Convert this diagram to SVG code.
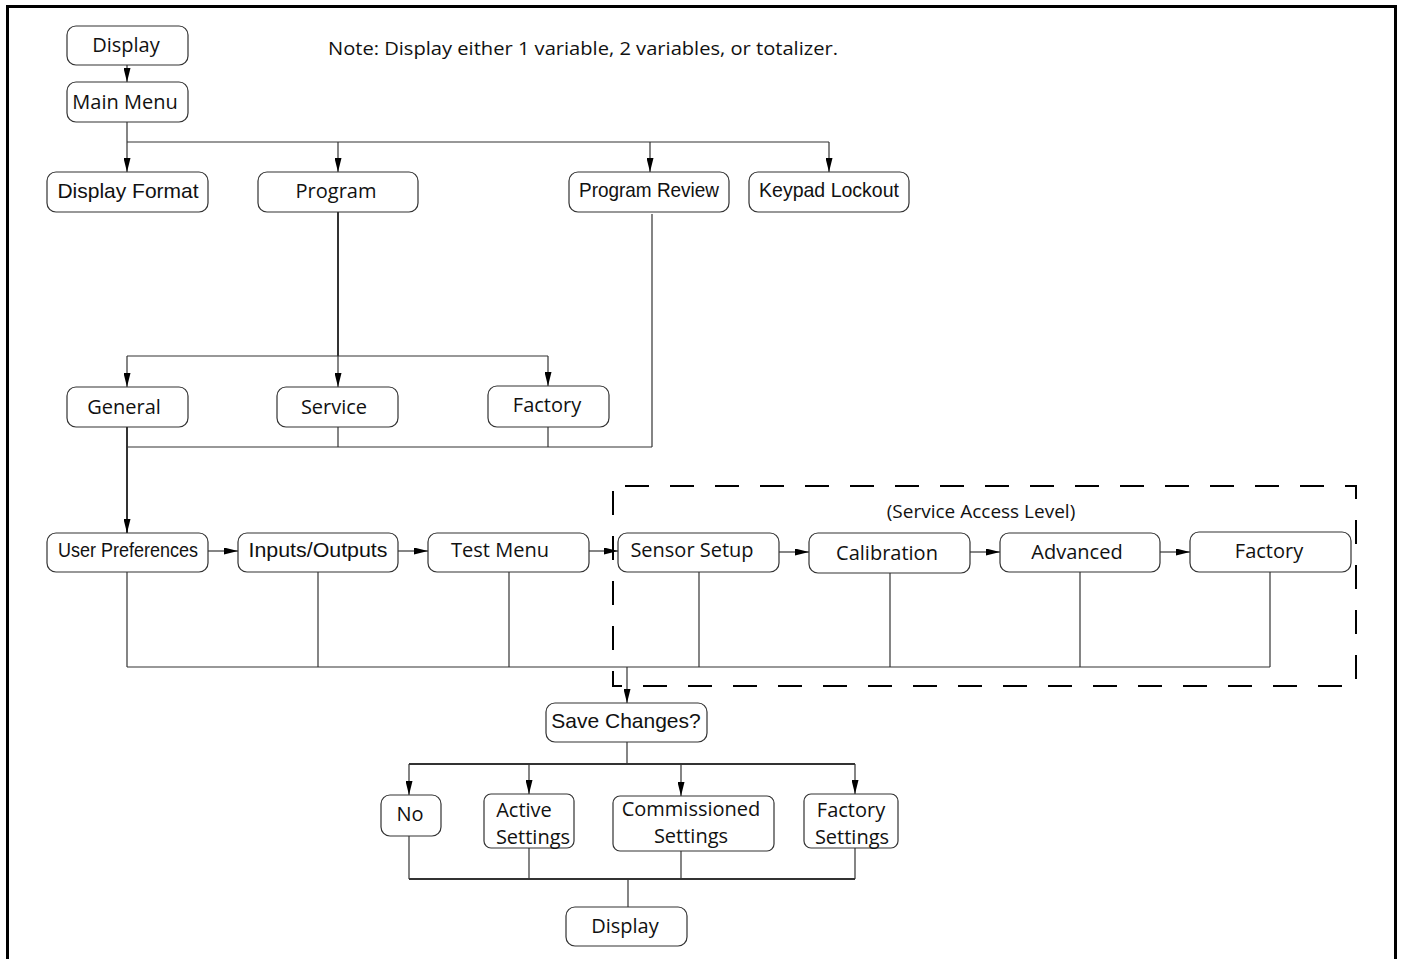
<svg xmlns="http://www.w3.org/2000/svg" width="1401" height="959" viewBox="0 0 1401 959">
<defs>
<marker id="ah" viewBox="0 0 14 7" refX="14" refY="3.5" markerWidth="14" markerHeight="7" markerUnits="userSpaceOnUse" orient="auto"><path d="M0,0 L14,3.5 L0,7 Z" fill="#000"/></marker>
<style>
.n rect{fill:#fff;stroke:#333;stroke-width:1.2}
.n text{font-family:"Open Sans","Noto Sans",sans-serif;font-size:20px;fill:#111;text-anchor:middle}
.n text.a{font-family:"Liberation Sans",Arial,sans-serif;font-size:21px}
#conn line,#conn polyline{stroke:#333;stroke-width:1.2;fill:none}
#conn .ar{marker-end:url(#ah)}
#conn .th{stroke-width:2}
.note{font-family:"Open Sans","Noto Sans",sans-serif;font-size:19px;fill:#111}
</style>
</defs>
<rect width="1401" height="959" fill="#fff"/>
<path d="M7.5,959 V6.5 H1395.5 V959" fill="none" stroke="#000" stroke-width="3"/>
<text class="note" x="328" y="55" textLength="510" lengthAdjust="spacingAndGlyphs">Note: Display either 1 variable, 2 variables, or totalizer.</text>
<rect x="613" y="486" width="743" height="200" fill="none" stroke="#000" stroke-width="2" stroke-dasharray="24 21" stroke-dashoffset="-12"/>
<text x="981" y="518" style="font-family:'Open Sans','Noto Sans',sans-serif;font-size:19px;fill:#111;text-anchor:middle">(Service Access Level)</text>
<g id="conn">
<line class="ar" x1="127" y1="65" x2="127" y2="82"/>
<line x1="127" y1="122" x2="127" y2="142"/>
<line x1="127" y1="142" x2="829" y2="142"/>
<line class="ar" x1="127" y1="142" x2="127" y2="172"/>
<line class="ar" x1="338" y1="142" x2="338" y2="172"/>
<line class="ar" x1="650" y1="142" x2="650" y2="172"/>
<line class="ar" x1="829" y1="142" x2="829" y2="172"/>
<line class="th" x1="338" y1="212" x2="338" y2="356"/>
<line x1="127" y1="356" x2="548" y2="356"/>
<line class="ar" x1="127" y1="356" x2="127" y2="387"/>
<line class="ar" x1="338" y1="356" x2="338" y2="387"/>
<line class="ar" x1="548" y1="356" x2="548" y2="386"/>
<line x1="338" y1="427" x2="338" y2="447"/>
<line x1="548" y1="427" x2="548" y2="447"/>
<line x1="127" y1="447" x2="652" y2="447"/>
<line x1="652" y1="214" x2="652" y2="447"/>
<line class="ar th" x1="127" y1="427" x2="127" y2="533"/>
<line class="ar" x1="208" y1="551" x2="238" y2="551"/>
<line class="ar" x1="398" y1="551" x2="428" y2="551"/>
<line class="ar" x1="589" y1="551" x2="618" y2="551"/>
<line class="ar" x1="779" y1="552" x2="809" y2="552"/>
<line class="ar" x1="970" y1="552" x2="1000" y2="552"/>
<line class="ar" x1="1160" y1="552" x2="1190" y2="552"/>
<line x1="127" y1="572" x2="127" y2="667"/>
<line x1="318" y1="572" x2="318" y2="667"/>
<line x1="509" y1="572" x2="509" y2="667"/>
<line x1="699" y1="572" x2="699" y2="667"/>
<line x1="890" y1="573" x2="890" y2="667"/>
<line x1="1080" y1="572" x2="1080" y2="667"/>
<line x1="1270" y1="572" x2="1270" y2="667"/>
<line x1="127" y1="667" x2="1270" y2="667"/>
<line class="ar" x1="627" y1="667" x2="627" y2="703"/>
<line x1="627" y1="742" x2="627" y2="764"/>
<line class="th" x1="409" y1="764" x2="855" y2="764"/>
<line class="ar" x1="409" y1="764" x2="409" y2="795"/>
<line class="ar" x1="529" y1="764" x2="529" y2="794"/>
<line class="ar" x1="681" y1="764" x2="681" y2="796"/>
<line class="ar" x1="855" y1="764" x2="855" y2="794"/>
<line x1="409" y1="836" x2="409" y2="879"/>
<line x1="529" y1="848" x2="529" y2="879"/>
<line x1="681" y1="851" x2="681" y2="879"/>
<line x1="855" y1="848" x2="855" y2="879"/>
<line class="th" x1="409" y1="879" x2="855" y2="879"/>
<line x1="628" y1="879" x2="628" y2="907"/>
</g>
<g id="n-display" class="n"><rect x="67" y="26" width="121" height="39" rx="9"/><text x="126" y="52">Display</text></g>
<g id="n-mainmenu" class="n"><rect x="67" y="82" width="121" height="40" rx="9"/><text x="125" y="109">Main Menu</text></g>
<g id="n-displayformat" class="n"><rect x="47" y="172" width="161" height="40" rx="9"/><text class="a" x="128" y="198">Display Format</text></g>
<g id="n-program" class="n"><rect x="258" y="172" width="160" height="40" rx="9"/><text x="336" y="198">Program</text></g>
<g id="n-programreview" class="n"><rect x="569" y="172" width="160" height="40" rx="9"/><text class="a" x="649" y="197" textLength="140" lengthAdjust="spacingAndGlyphs">Program Review</text></g>
<g id="n-keypadlockout" class="n"><rect x="749" y="172" width="160" height="40" rx="9"/><text class="a" x="829" y="197" textLength="140" lengthAdjust="spacingAndGlyphs">Keypad Lockout</text></g>
<g id="n-general" class="n"><rect x="67" y="387" width="121" height="40" rx="9"/><text x="124" y="414">General</text></g>
<g id="n-service" class="n"><rect x="277" y="387" width="121" height="40" rx="9"/><text x="334" y="414">Service</text></g>
<g id="n-factory1" class="n"><rect x="488" y="386" width="121" height="41" rx="9"/><text x="547" y="412">Factory</text></g>
<g id="n-userprefs" class="n"><rect x="47" y="533" width="161" height="39" rx="9"/><text class="a" x="128" y="557" textLength="140" lengthAdjust="spacingAndGlyphs">User Preferences</text></g>
<g id="n-io" class="n"><rect x="238" y="533" width="160" height="39" rx="9"/><text class="a" x="318" y="557" textLength="139" lengthAdjust="spacingAndGlyphs">Inputs/Outputs</text></g>
<g id="n-testmenu" class="n"><rect x="428" y="533" width="161" height="39" rx="9"/><text x="500" y="557">Test Menu</text></g>
<g id="n-sensorsetup" class="n"><rect x="618" y="533" width="161" height="39" rx="9"/><text x="692" y="557">Sensor Setup</text></g>
<g id="n-calibration" class="n"><rect x="809" y="533" width="161" height="40" rx="9"/><text x="887" y="560">Calibration</text></g>
<g id="n-advanced" class="n"><rect x="1000" y="533" width="160" height="39" rx="9"/><text x="1077" y="559">Advanced</text></g>
<g id="n-factory2" class="n"><rect x="1190" y="532" width="161" height="40" rx="9"/><text x="1269" y="558">Factory</text></g>
<g id="n-savechanges" class="n"><rect x="546" y="703" width="161" height="39" rx="9"/><text class="a" x="626" y="728">Save Changes?</text></g>
<g id="n-no" class="n"><rect x="381" y="795" width="60" height="41" rx="9"/><text x="410" y="821">No</text></g>
<g id="n-active" class="n"><rect x="484" y="794" width="90" height="54" rx="7"/><text x="524" y="817">Active</text><text x="533" y="844">Settings</text></g>
<g id="n-commissioned" class="n"><rect x="613" y="796" width="161" height="55" rx="7"/><text x="691" y="816">Commissioned</text><text x="691" y="843">Settings</text></g>
<g id="n-factorysettings" class="n"><rect x="804" y="794" width="94" height="54" rx="7"/><text x="851" y="817">Factory</text><text x="852" y="844">Settings</text></g>
<g id="n-display2" class="n"><rect x="566" y="907" width="121" height="39" rx="9"/><text x="625" y="933">Display</text></g>
</svg>
